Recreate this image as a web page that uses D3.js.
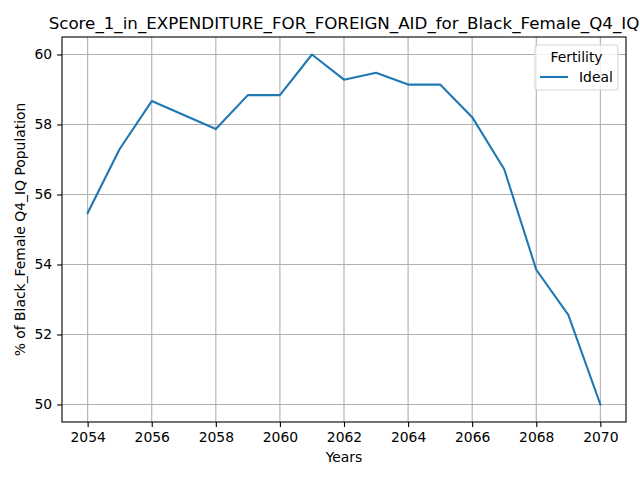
<html>
<head>
<style>
  body { margin: 0; background: #fff; }
  text { font-family: "DejaVu Sans", sans-serif; fill: #000; }
</style>
<script src="https://d3js.org/d3.v7.min.js"></script>
</head>
<body>
<svg id="chart"></svg>
<script>
// values
var years = [2054, 2055, 2056, 2057, 2058, 2059, 2060, 2061, 2062, 2063, 2064, 2065, 2066, 2067, 2068, 2069, 2070];
var ideal = [55.47, 57.30, 58.67, 58.27, 57.87, 58.84, 58.84, 60.0, 59.28, 59.48, 59.14, 59.14, 58.21, 56.72, 53.85, 52.56, 50.0];
var xTicks = [2054, 2056, 2058, 2060, 2062, 2064, 2066, 2068, 2070];
var yTicks = [50, 52, 54, 56, 58, 60];

var W = 640, H = 480,
    margin = {top: 37, right: 14, bottom: 58, left: 62},
    width = W - margin.left - margin.right,
    height = H - margin.top - margin.bottom;

var svg = d3.select("#chart").attr("width", W).attr("height", H);
var g = svg.append("g").attr("transform", "translate(" + margin.left + "," + margin.top + ")");

// matplotlib style 5% padding
var x = d3.scaleLinear().domain([2053.2, 2070.8]).range([0, width]);
var y = d3.scaleLinear().domain([49.5, 60.5]).range([height, 0]);

// grid
g.append("g").selectAll("line").data(xTicks).join("line")
  .attr("x1", d => x(d)).attr("x2", d => x(d)).attr("y1", 0).attr("y2", height)
  .attr("stroke", "#b0b0b0").attr("stroke-width", 1.1);
g.append("g").selectAll("line").data(yTicks).join("line")
  .attr("y1", d => y(d)).attr("y2", d => y(d)).attr("x1", 0).attr("x2", width)
  .attr("stroke", "#b0b0b0").attr("stroke-width", 1.1);

// axes
var xAxis = g.append("g").attr("transform", "translate(0," + height + ")")
  .call(d3.axisBottom(x).tickValues(xTicks).tickFormat(d3.format("d")).tickSize(4.9).tickPadding(4.9));
var yAxis = g.append("g")
  .call(d3.axisLeft(y).tickValues(yTicks).tickSize(4.9).tickPadding(4.9));
[xAxis, yAxis].forEach(function(a) {
  a.select(".domain").remove();
  a.selectAll("line").attr("stroke", "#000").attr("stroke-width", 1.1);
  a.selectAll("text").style("font-family", "DejaVu Sans").style("font-size", "13.9px").attr("fill", "#000");
});

// line
var line = d3.line().x((d, i) => x(years[i])).y(d => y(d));
g.append("path").datum(ideal)
  .attr("d", line).attr("fill", "none")
  .attr("stroke", "#1f77b4").attr("stroke-width", 2.1).attr("stroke-linejoin", "round").attr("stroke-linecap", "square");

// frame
g.append("rect").attr("width", width).attr("height", height)
  .attr("fill", "none").attr("stroke", "#000").attr("stroke-width", 1.1);

// titles
svg.append("text").attr("x", margin.left + width / 2).attr("y", 29)
  .attr("text-anchor", "middle").style("font-size", "16.7px")
  .text("Score_1_in_EXPENDITURE_FOR_FOREIGN_AID_for_Black_Female_Q4_IQ");
svg.append("text").attr("x", margin.left + width / 2).attr("y", 462)
  .attr("text-anchor", "middle").style("font-size", "13.9px").text("Years");
svg.append("text").attr("transform", "translate(25," + (margin.top + height / 2) + ") rotate(-90)")
  .attr("text-anchor", "middle").style("font-size", "13.9px").text("% of Black_Female Q4_IQ Population");

// legend
var lg = svg.append("g").attr("transform", "translate(535,45)");
lg.append("rect").attr("width", 83).attr("height", 45).attr("rx", 3)
  .attr("fill", "#fff").attr("fill-opacity", 0.8).attr("stroke", "#d5d5d5").attr("stroke-width", 1.1);
lg.append("text").attr("x", 41.5).attr("y", 17).attr("text-anchor", "middle")
  .style("font-size", "13.9px").text("Fertility");
lg.append("line").attr("x1", 5).attr("x2", 33).attr("y1", 32).attr("y2", 32)
  .attr("stroke", "#1f77b4").attr("stroke-width", 2.1);
lg.append("text").attr("x", 44).attr("y", 37).style("font-size", "13.9px").text("Ideal");
</script>
</body>
</html>
